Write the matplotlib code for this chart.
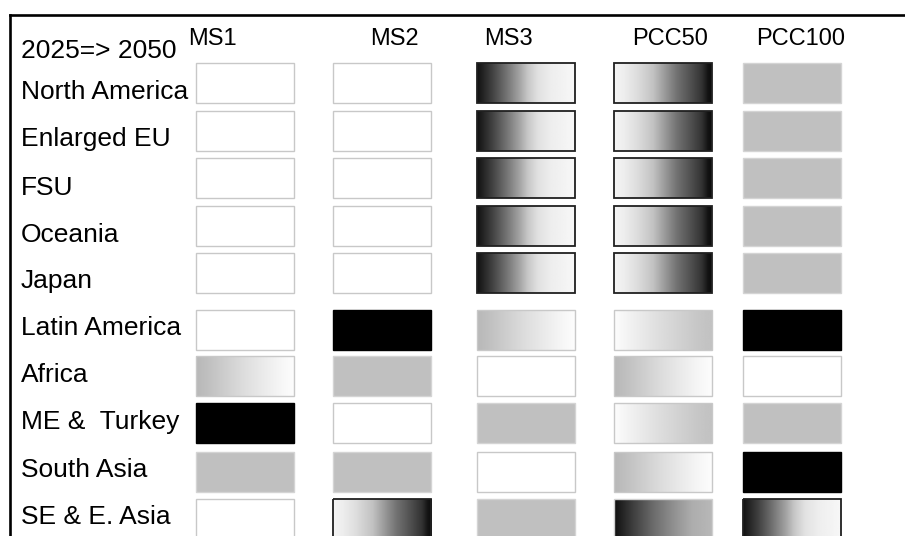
"""Regional shading grid, 2025 => 2050, for five scenarios (MS1..PCC100)."""

import matplotlib
matplotlib.use("Agg")
import matplotlib.pyplot as plt
import numpy as np
from matplotlib.patches import Rectangle

plt.rcParams["font.family"] = ["Liberation Sans", "DejaVu Sans"]

regions = ["North America", "Enlarged EU", "FSU", "Oceania", "Japan",
           "Latin America", "Africa", "ME &  Turkey", "South Asia", "SE & E. Asia"]
scenarios = ["MS1", "MS2", "MS3", "PCC50", "PCC100"]
corner_label = "2025=> 2050"

# cell shading codes: w=white, g=grey, k=black,
# kw/wk/gw/wg/kg = left-to-right gradients between those tones
ms1 =    ["w", "w", "w", "w", "w", "w", "gw", "k", "g", "w"]
ms2 =    ["w", "w", "w", "w", "w", "k", "g", "w", "g", "wk"]
ms3 =    ["kw", "kw", "kw", "kw", "kw", "gw", "w", "g", "w", "g"]
pcc50 =  ["wk", "wk", "wk", "wk", "wk", "wg", "gw", "wg", "gw", "kg"]
pcc100 = ["g", "g", "g", "g", "g", "k", "w", "g", "k", "kw"]
columns = [ms1, ms2, ms3, pcc50, pcc100]

# --- layout (pixel units of the 905x536 canvas) ---------------------------
col_x = [244.5, 382, 526, 663, 791.5]          # box centres
row_y = [83, 131, 178, 226, 273, 330, 376, 423, 472, 519]
label_y = [92, 139, 188, 235, 281, 328, 375, 422, 470, 517]
head_x = [212, 394, 508, 670, 801]
box_w, box_h = 98, 40

# gradient profiles: (positions, grey levels)
ramps = {
    "kw": ([0, 0.05, 0.15, 0.3, 0.42, 0.52, 0.62, 0.75, 1],
           [0.07, 0.13, 0.25, 0.45, 0.62, 0.78, 0.88, 0.93, 0.97]),
    "wk": ([0, 0.1, 0.23, 0.4, 0.5, 0.64, 0.78, 0.9, 0.96, 1],
           [0.96, 0.93, 0.87, 0.76, 0.63, 0.45, 0.32, 0.2, 0.08, 0.05]),
    "gw": ([0, 0.15, 0.5, 0.85, 1], [0.72, 0.76, 0.87, 0.96, 0.99]),
    "wg": ([0, 0.15, 0.5, 0.85, 1], [0.99, 0.95, 0.86, 0.78, 0.76]),
    "kg": ([0, 0.06, 0.2, 0.4, 0.6, 0.8, 1], [0.06, 0.12, 0.25, 0.42, 0.56, 0.68, 0.72]),
}
solid = {"w": "white", "g": "#c0c0c0", "k": "black"}
edge = {"w": "#c8c8c8", "g": "#d4d4d4", "k": "black",
        "kw": "#202020", "wk": "#202020", "gw": "#c8c8c8", "wg": "#c8c8c8", "kg": "#d0d0d0"}

fig = plt.figure(figsize=(9.05, 5.36), dpi=100)
ax = fig.add_axes([9.5 / 905, 0, 1 - 9.5 / 905, 1 - 15 / 536])
for side in ["right", "bottom"]:
    ax.spines[side].set_visible(False)
for side in ["top", "left"]:
    ax.spines[side].set_linewidth(1.9)
ax.set_xticks([])
ax.set_yticks([])

t = np.linspace(0, 1, 200)
for ci, col in enumerate(columns):
    for ri, code in enumerate(col):
        x0 = col_x[ci] - box_w / 2
        y0 = row_y[ri] - box_h / 2
        if code in ramps:
            pos, lev = ramps[code]
            grad = np.interp(t, pos, lev)[None, :]
            ax.imshow(grad, cmap="gray", vmin=0, vmax=1, aspect="auto",
                      extent=(x0, x0 + box_w, y0 + box_h, y0), interpolation="bilinear",
                      zorder=2)
            face = "none"
        else:
            face = solid[code]
        lw = 1.3 if code in ("kw", "wk") else 1.0
        ax.add_patch(Rectangle((x0, y0), box_w, box_h, facecolor=face,
                               edgecolor=edge[code], linewidth=lw, zorder=3))

ax.set_xlim(9.5, 905)
ax.set_ylim(536, 15)

for name, hx in zip(scenarios, head_x):
    ax.text(hx, 39, name, ha="center", va="center", fontsize=17)
ax.text(21, 51, corner_label, ha="left", va="center", fontsize=19)
for name, ly in zip(regions, label_y):
    ax.text(21, ly, name, ha="left", va="center", fontsize=19)

fig.savefig("out.png", dpi=100)
